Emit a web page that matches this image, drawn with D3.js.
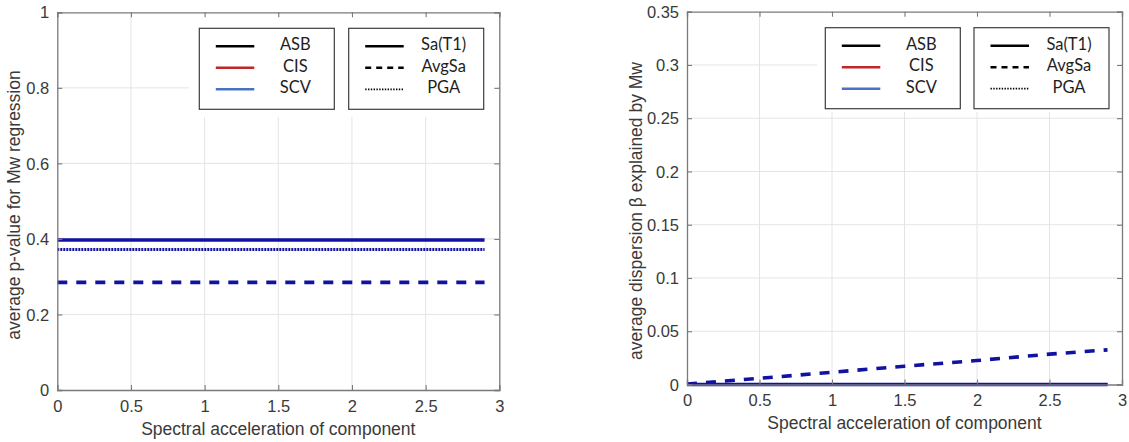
<!DOCTYPE html>
<html>
<head>
<meta charset="utf-8">
<script src="https://cdn.jsdelivr.net/npm/d3@7"></script>
<style>
  html, body { margin: 0; padding: 0; background: #fff; }
  svg { display: block; }
</style>
</head>
<body>
<svg id="fig" width="1129" height="442"></svg>
<script>
// Spectral acceleration of component (x samples)
const saValues = [0, 0.5, 1, 1.5, 2, 2.5, 2.9];

// Left panel: average p-value for Mw regression (SCV)
const pValueSaT1  = [0.397, 0.397, 0.397, 0.397, 0.397, 0.397, 0.397];
const pValueAvgSa = [0.285, 0.285, 0.285, 0.285, 0.285, 0.285, 0.285];
const pValuePGA   = [0.372, 0.372, 0.372, 0.372, 0.372, 0.372, 0.372];

// Right panel: average dispersion beta explained by Mw (SCV)
const betaSaT1  = [0, 0, 0, 0, 0, 0, 0];
const betaAvgSa = [0.0005, 0.0058, 0.0115, 0.0172, 0.0225, 0.0285, 0.0325];
const betaPGA   = [0, 0, 0, 0, 0, 0, 0];

// Tick labels
const xTicks = [0, 0.5, 1, 1.5, 2, 2.5, 3];
const xTickLabels = ["0", "0.5", "1", "1.5", "2", "2.5", "3"];
const yTicksLeft = [0, 0.2, 0.4, 0.6, 0.8, 1];
const yTickLabelsLeft = ["0", "0.2", "0.4", "0.6", "0.8", "1"];
const yTicksRight = [0, 0.05, 0.1, 0.15, 0.2, 0.25, 0.3, 0.35];
const yTickLabelsRight = ["0", "0.05", "0.1", "0.15", "0.2", "0.25", "0.3", "0.35"];

// Legend entries
const methodNames = ["ASB", "CIS", "SCV"];
const methodColors = ["#000000", "#c0262b", "#4a72c4"];
const imNames = ["Sa(T1)", "AvgSa", "PGA"];

const LINE_COLOR = "#1212a2";
const AXIS_COLOR = "#7a7a7a";
const GRID_COLOR = "#e4e4e4";
const TEXT_COLOR = "#3a3a3a";
const AXIS_FONT = "'Liberation Sans', Arial, sans-serif";
const styles = {
  solid:  { dash: null,    width: 3.6 },
  dashed: { dash: "10,9",  width: 3.6 },
  dotted: { dash: "2,1",   width: 3.0 }
};

const svg = d3.select("#fig");

function drawPanel(cfg) {
  const g = svg.append("g");
  const x = d3.scaleLinear().domain([0, 3]).range([cfg.left, cfg.right]);
  const y = d3.scaleLinear().domain(cfg.yDomain).range([cfg.bottom, cfg.top]);

  // grid
  g.append("g").selectAll("line").data(xTicks.slice(1, -1)).join("line")
    .attr("x1", d => x(d)).attr("x2", d => x(d))
    .attr("y1", cfg.top).attr("y2", cfg.bottom)
    .attr("stroke", GRID_COLOR).attr("stroke-width", 1);
  g.append("g").selectAll("line").data(cfg.yTicks.slice(1, -1)).join("line")
    .attr("x1", cfg.left).attr("x2", cfg.right)
    .attr("y1", d => y(d)).attr("y2", d => y(d))
    .attr("stroke", GRID_COLOR).attr("stroke-width", 1);

  // series
  const series = [
    { vals: cfg.pga,   style: styles.dotted },
    { vals: cfg.avgsa, style: styles.dashed },
    { vals: cfg.sat1,  style: styles.solid }
  ];
  const line = d3.line().x(d => x(d[0])).y(d => y(d[1]));
  series.forEach(s => {
    g.append("path")
      .datum(saValues.map((v, i) => [v, s.vals[i]]))
      .attr("d", line)
      .attr("fill", "none")
      .attr("stroke", LINE_COLOR)
      .attr("stroke-width", s.style.width)
      .attr("stroke-dasharray", s.style.dash);
  });

  // legend background
  g.append("rect")
    .attr("x", cfg.maskX0).attr("y", cfg.top + 1.5)
    .attr("width", cfg.right - 1.5 - cfg.maskX0).attr("height", cfg.maskY1 - cfg.top - 1.5)
    .attr("fill", "#fff");

  // axes box with inward ticks on all sides
  const axisG = g.append("g");
  const ax = [
    d3.axisBottom(x).tickValues(xTicks).tickSize(-5).tickFormat((d, i) => xTickLabels[i]),
    d3.axisTop(x).tickValues(xTicks).tickSize(-5).tickFormat(""),
    d3.axisLeft(y).tickValues(cfg.yTicks).tickSize(-5).tickFormat((d, i) => cfg.yTickLabels[i]),
    d3.axisRight(y).tickValues(cfg.yTicks).tickSize(-5).tickFormat("")
  ];
  const tr = [
    `translate(0,${cfg.bottom})`, `translate(0,${cfg.top})`,
    `translate(${cfg.left},0)`, `translate(${cfg.right},0)`
  ];
  ax.forEach((a, i) => {
    const sel = axisG.append("g").attr("transform", tr[i]).call(a);
    sel.select(".domain").attr("stroke", AXIS_COLOR).attr("stroke-width", 1.3);
    sel.selectAll(".tick line").attr("stroke", AXIS_COLOR).attr("stroke-width", 1.1);
    sel.selectAll(".tick text")
      .attr("fill", TEXT_COLOR)
      .style("font-family", AXIS_FONT)
      .style("font-size", "16.5px");
    if (i === 0) sel.selectAll(".tick text").attr("y", 10).attr("dy", "0.71em");
    if (i === 2) sel.selectAll(".tick text").attr("x", -8).attr("dy", "0.34em");
  });

  // axis titles
  g.append("text")
    .attr("x", (cfg.left + cfg.right) / 2).attr("y", cfg.bottom + 40)
    .attr("text-anchor", "middle").attr("dominant-baseline", "middle")
    .attr("fill", TEXT_COLOR)
    .style("font-family", AXIS_FONT).style("font-size", "17.5px")
    .text("Spectral acceleration of component");
  g.append("text")
    .attr("transform", `translate(${cfg.yTitleX},${cfg.yTitleY}) rotate(-90)`)
    .attr("text-anchor", "middle").attr("dominant-baseline", "middle")
    .attr("fill", TEXT_COLOR)
    .style("font-family", AXIS_FONT).style("font-size", "17.5px")
    .text(cfg.yTitle);

  // legends
  const rows = [cfg.legTop + 18, cfg.legTop + 39.5, cfg.legTop + 61];
  const boxH = 81;
  const boxW = 135;
  [0, 1].forEach(b => {
    const bx = cfg.legX[b];
    g.append("rect")
      .attr("x", bx).attr("y", cfg.legTop).attr("width", boxW).attr("height", boxH)
      .attr("fill", "#fff").attr("stroke", "#3c3c3c").attr("stroke-width", 1.2);
    rows.forEach((ry, i) => {
      const ls = g.append("line")
        .attr("x1", bx + 16.5).attr("x2", bx + 55)
        .attr("y1", ry).attr("y2", ry)
        .attr("stroke", b === 0 ? methodColors[i] : "#000");
      if (b === 0) {
        ls.attr("stroke-width", 2.4);
      } else {
        const dashes = [null, "6,5", "1.4,1.4"];
        ls.attr("stroke-width", i === 2 ? 1.7 : 2.6).attr("stroke-dasharray", dashes[i]);
      }
      g.append("text")
        .attr("x", bx + (b === 0 ? 96 : 95)).attr("y", ry)
        .attr("text-anchor", "middle").attr("dominant-baseline", "middle")
        .attr("fill", "#1e1e1e")
        .style("font-family", "Lato, 'Open Sans', sans-serif").style("font-size", "16.5px")
        .text(b === 0 ? methodNames[i] : imNames[i]);
    });
  });
}

drawPanel({
  left: 57.3, right: 499.3, top: 12.3, bottom: 390,
  yDomain: [0, 1], yTicks: yTicksLeft, yTickLabels: yTickLabelsLeft,
  sat1: pValueSaT1, avgsa: pValueAvgSa, pga: pValuePGA,
  yTitle: "average p-value for Mw regression", yTitleX: 15.5, yTitleY: 205,
  maskX0: 189, maskY1: 117,
  legX: [199.3, 348.7], legTop: 28.3
});

drawPanel({
  left: 687, right: 1122, top: 11.7, bottom: 384.5,
  yDomain: [0, 0.35], yTicks: yTicksRight, yTickLabels: yTickLabelsRight,
  sat1: betaSaT1, avgsa: betaAvgSa, pga: betaPGA,
  yTitle: "average dispersion \u03b2 explained by Mw", yTitleX: 637.5, yTitleY: 211,
  maskX0: 817, maskY1: 112,
  legX: [825.3, 974], legTop: 27.7
});
</script>
</body>
</html>
